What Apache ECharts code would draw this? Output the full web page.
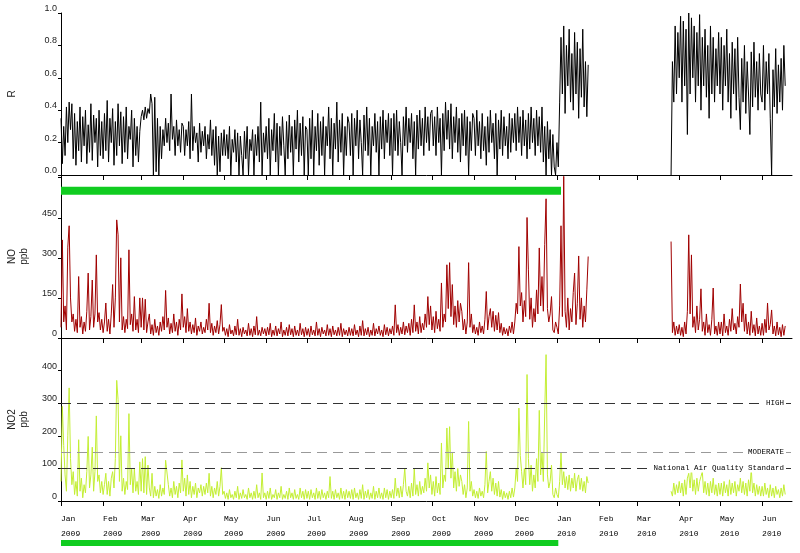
<!DOCTYPE html>
<html>
<head>
<meta charset="utf-8">
<title>R / NO / NO2</title>
<script src="https://cdn.jsdelivr.net/npm/echarts@6/dist/echarts.min.js"></script>
<style>
  html, body { margin: 0; padding: 0; background: #fff; }
  #chart { width: 800px; height: 553px; }
</style>
</head>
<body>
<div id="chart"></div>
<script>
// 月份标签
const monthNames = ['Jan', 'Feb', 'Mar', 'Apr', 'May', 'Jun', 'Jul', 'Aug', 'Sep', 'Oct', 'Nov', 'Dec'];
const firstDay = '2009-01-01';
const lastDay = '2010-06-23';

// y 轴刻度
const rTicks = [0, 0.2, 0.4, 0.6, 0.8, 1.0];
const noTicks = [0, 150, 300, 450];
const no2Ticks = [0, 100, 200, 300, 400];

// NO2 thresholds
const thresholdValues = [300, 150, 100];
const thresholdNames = ['HIGH', 'MODERATE', 'National Air Quality Standard'];

// green period bars (start, end)
const periodTop = ['2009-01-01', '2010-01-04'];
const periodBottom = ['2009-01-01', '2010-01-02'];

// ---- R, one value per day ----
const rJan09 = [.35,.07,.30,.12,.42,.20,.45,.28,.44,.10,.38,.06,.33,.15,.42,.08,.36,.18,.40,.07,.31,.14,.44,.09,.37,.20,.35,.05,.40,.12,.33];
const rFeb09 = [.10,.38,.15,.46,.08,.35,.20,.41,.06,.33,.12,.44,.18,.39,.07,.36,.14,.42,.10,.30,.22,.40,.05,.35,.12,.30,.08,.27];
const rMar09 = [.36,.40,.34,.42,.35,.41,.38,.50,.44,0,.48,.02,.35,0,.30,.10,.28,.18,.35,.20,.32,.15,.50,.22,.30,.12,.34,.18,.28,.14,.32];
const rApr09 = [.30,.12,.28,.18,.33,.10,.50,.15,.30,.20,.26,.08,.32,.14,.27,.18,.30,.10,.25,.16,.34,.12,.28,.06,.30,0,.24,.02,.26,.12];
const rMay09 = [.28,.12,.25,.10,.30,0,.22,.14,.28,.08,.26,0,.24,.12,0,.27,.10,.30,0,.22,.15,.28,0,.25,.12,.30,.08,.45,0,.26,.14];
const rJun09 = [.30,.10,.35,0,.28,.15,.38,.08,.32,0,.30,.12,.36,.18,0,.33,.10,.37,.14,.30,0,.34,.16,.40,.08,.32,.12,.36,0,.30];
const rJul09 = [.28,0,.35,.10,.40,0,.30,.15,.38,.06,.33,.12,.36,0,.30,.18,.42,.10,.35,0,.32,.16,.45,.08,.34,.14,.38,0,.30,.12,.36];
const rAug09 = [.32,.12,.38,0,.35,.18,.40,.10,.34,.20,0,.37,.15,.42,.12,.35,0,.30,.18,.38,.14,.33,0,.36,.16,.40,.10,.34,.20,.38,.12];
const rSep09 = [.35,0,.38,.15,.40,.12,.33,.20,0,.36,.18,.42,.14,.35,.20,.38,.10,.33,0,.37,.16,.40,.18,.35,.12,.42,.20,.36,.15,.38];
const rOct09 = [.40,.18,.36,.12,.42,.20,.35,0,.38,.15,.45,.22,.40,.16,.44,.10,.36,.20,.42,.14,.35,.08,.38,.18,.40,.12,.36,0,.33,.15,.38];
const rNov09 = [.35,.12,.40,.18,.33,.10,.38,.15,.30,.06,.36,.14,.40,.20,.32,.10,.38,0,.34,.16,.40,.12,.36,.18,.30,.10,.38,.14,.35,.20];
const rDec09 = [.38,.15,.42,.20,.36,.12,.40,.18,.34,.10,.38,.16,.42,.20,.35,.12,.40,.18,.36,.14,.42,.08,.30,0,.33,.10,.28,0,.25,.05,0];
const rJan10 = [.20,.05,.45,.85,.50,.92,.38,.80,.55,.90,.45,.75,.40,.88,.50,.82,.35,.78,.48,.90,.42,.70,.36,.68];
const rMar10 = [0,.70,.45,.92,.50,.88];
const rApr10 = [.60,.98,.45,.95,.55,.90,.25,1.0,.50,.97,.60,.92,.45,.88,.55,.99,.40,.85,.55,.90,.48,.80,.35,.92,.50,.85,.45,.78,.55,.88];
const rMay10 = [.50,.85,.40,.80,.55,.90,.45,.75,.35,.82,.50,.78,.40,.85,.48,.28,.72,.45,.80,.38,.70,.50,.25,.76,.42,.82,.48,.70,.40,.75,.50];
const rJun10 = [.45,.80,.40,.70,.50,.75,.35,0,.65,.42,.78,.38,.68,.45,.72,.40,.80,.55];

// ---- NO (ppb), one value per day ----
const noJan09 = [40,367,60,120,30,340,420,150,60,90,25,70,20,230,40,80,15,60,25,100,243,30,80,217,40,90,311,60,95,30,70];
const noFeb09 = [20,60,131,25,70,15,90,200,40,150,442,386,60,300,30,80,20,70,35,330,50,90,25,155,30,70,20,150];
const noMar09 = [40,150,30,145,20,60,90,15,50,10,70,20,45,10,60,25,80,30,178,40,75,15,55,20,90,25,60,10,70,30,165];
const noApr09 = [40,80,20,110,25,60,15,50,20,75,10,45,25,60,15,40,20,70,30,130,20,55,10,45,20,65,15,50,125,25];
const noMay09 = [40,10,35,5,50,15,30,8,45,12,70,10,35,5,40,15,30,8,55,10,35,5,45,12,80,10,30,8,40,15,35];
const noJun09 = [8,40,12,55,5,30,10,45,8,35,15,60,5,30,10,40,8,50,12,35,5,45,10,30,8,55,12,35,5,40];
const noJul09 = [10,35,5,45,12,30,8,60,10,35,5,40,15,30,8,50,10,35,5,45,12,30,8,40,10,55,5,35,12,30,8];
const noAug09 = [40,10,35,8,50,12,30,5,45,10,65,8,35,12,40,5,30,10,55,8,35,15,45,10,30,5,50,12,40,8,35];
const noSep09 = [15,45,10,124,20,50,10,40,15,60,12,45,20,55,10,70,20,124,25,60,15,80,20,55,30,90,40,155,50,120];
const noOct09 = [30,80,20,100,35,70,25,206,40,90,60,274,110,282,80,200,50,120,40,140,60,130,100,30,70,15,60,282,40,90,20];
const noNov09 = [50,15,40,10,60,20,45,15,70,174,30,80,110,40,100,25,85,30,95,20,55,10,40,15,35,8,45,20,60,15];
const noDec09 = [60,130,90,342,120,170,60,140,80,451,255,70,150,40,110,60,180,90,337,120,230,100,349,521,110,60,90,155,30,20,60];
const noJan10 = [40,15,120,420,80,605,100,40,150,30,110,60,170,243,50,130,307,70,150,40,120,60,180,305];
const noMar10 = [361,20,60,10,45,15];
const noApr10 = [50,10,40,5,60,15,100,386,90,311,40,80,20,120,30,70,184,25,60,10,90,20,50,10,70,187,15,45,10,60];
const noMay10 = [15,60,8,90,20,45,10,70,25,110,30,55,15,80,40,202,60,130,25,90,15,60,10,100,20,50,8,75,15,45,10];
const noJun10 = [55,10,70,20,131,30,50,105,15,45,8,60,12,40,5,50,10,45];

// ---- NO2 (ppb), one value per day ----
const no2Jan09 = [60,290,170,80,30,200,347,130,50,90,20,60,15,188,30,70,10,50,25,90,198,40,80,165,30,90,261,60,80,25,60];
const no2Feb09 = [20,50,85,20,60,15,70,90,40,130,370,311,60,200,30,70,20,60,35,268,50,100,25,100,30,60,20,120];
const no2Mar09 = [30,130,25,136,20,110,40,15,85,10,45,15,35,8,50,15,40,20,125,120,50,15,40,10,60,20,45,10,55,25,126];
const no2Apr09 = [30,70,15,80,20,60,10,45,20,55,10,40,25,50,15,45,20,55,25,85,15,45,10,40,20,60,15,45,102,20];
const no2May09 = [30,8,25,5,35,10,20,5,30,10,45,5,25,8,35,10,20,5,40,10,25,5,30,8,50,10,25,5,86,10,25];
const no2Jun09 = [5,30,8,40,5,20,10,35,5,25,10,45,5,20,8,30,5,40,10,25,5,35,8,20,5,40,10,30,5,35];
const no2Jul09 = [8,30,5,35,10,25,5,40,8,30,5,35,10,25,5,30,10,75,8,30,5,35,10,25,5,40,8,30,5,35,10];
const no2Aug09 = [30,8,35,5,40,10,25,5,35,8,50,5,30,10,35,5,25,8,45,5,30,10,40,8,25,5,40,10,35,5,30];
const no2Sep09 = [10,35,8,70,15,40,10,45,12,50,101,30,15,45,10,55,15,100,20,50,15,60,20,45,25,70,30,117,40,80];
const no2Oct09 = [20,60,15,75,25,55,20,178,40,80,60,224,100,228,70,150,40,90,30,100,45,80,60,20,50,10,40,244,30,60,15];
const no2Nov09 = [35,10,30,8,40,15,30,10,50,152,25,60,90,30,70,20,55,15,60,12,35,5,30,10,25,5,30,10,40,12];
const no2Dec09 = [40,100,60,285,140,90,40,100,50,388,130,50,110,30,80,40,130,60,278,80,150,60,270,449,80,40,60,110,20,10,40];
const no2Jan10 = [20,10,60,148,50,90,40,75,35,80,30,70,40,85,30,65,80,35,70,30,60,25,75,55];
const no2Mar10 = [30,15,55,20,50,25];
const no2Apr10 = [60,25,55,15,65,20,70,85,40,104,30,65,20,70,30,60,75,90,25,60,20,55,15,60,25,70,20,50,15,55];
const no2May10 = [20,55,15,60,25,50,15,65,20,55,25,60,15,50,30,70,25,60,20,55,15,65,30,101,25,55,15,50,20,45,15];
const no2Jun10 = [45,15,55,20,40,10,50,15,40,10,45,20,35,10,40,15,50,20];

// start date of each month block
const blockStarts = ['2009-01-01','2009-02-01','2009-03-01','2009-04-01','2009-05-01','2009-06-01','2009-07-01','2009-08-01',
  '2009-09-01','2009-10-01','2009-11-01','2009-12-01','2010-01-01','2010-03-26','2010-04-01','2010-05-01','2010-06-01'];

// 日期类目
const days = [];
for (let t = Date.parse(firstDay); t <= Date.parse(lastDay); t += 864e5) {
  days.push(new Date(t).toISOString().slice(0, 10));
}

function place(blocks) {
  const out = days.map(() => null);
  blocks.forEach((vals, b) => {
    const i0 = days.indexOf(blockStarts[b]);
    vals.forEach((v, k) => {
      if (i0 + k < out.length) out[i0 + k] = v;
    });
  });
  return out;
}

const rData = place([rJan09, rFeb09, rMar09, rApr09, rMay09, rJun09, rJul09, rAug09, rSep09, rOct09, rNov09, rDec09, rJan10, rMar10, rApr10, rMay10, rJun10]);
const noData = place([noJan09, noFeb09, noMar09, noApr09, noMay09, noJun09, noJul09, noAug09, noSep09, noOct09, noNov09, noDec09, noJan10, noMar10, noApr10, noMay10, noJun10]);
const no2Data = place([no2Jan09, no2Feb09, no2Mar09, no2Apr09, no2May09, no2Jun09, no2Jul09, no2Aug09, no2Sep09, no2Oct09, no2Nov09, no2Dec09, no2Jan10, no2Mar10, no2Apr10, no2May10, no2Jun10]);

const isMonthStart = (idx, value) => value.slice(8) === '01';
const sans = 'Liberation Sans, Arial, sans-serif';
const mono = 'Liberation Mono, Courier New, monospace';
const lineColors = ['#333', '#999', '#333'];

function makeX(gridIndex, withLabels) {
  return {
    type: 'category',
    gridIndex: gridIndex,
    data: days,
    boundaryGap: false,
    show: gridIndex < 3,
    axisLine: { lineStyle: { color: '#000', width: 1 } },
    axisTick: { interval: isMonthStart, length: 5, lineStyle: { color: '#000' } },
    axisLabel: {
      show: withLabels,
      interval: isMonthStart,
      formatter: (v) => monthNames[+v.slice(5, 7) - 1] + '\n' + v.slice(0, 4),
      align: 'left',
      margin: 10,
      lineHeight: 15,
      fontFamily: mono,
      fontSize: 8,
      color: '#000'
    },
    splitLine: { show: false }
  };
}

function makeY(gridIndex, name, max, ticks, fmt, gap) {
  return {
    type: 'value',
    gridIndex: gridIndex,
    min: 0,
    max: max,
    interval: ticks[1] - ticks[0],
    name: name,
    nameLocation: 'middle',
    nameRotate: 90,
    nameGap: gap,
    nameTextStyle: { fontFamily: sans, fontSize: 10, lineHeight: 12, color: '#222' },
    axisLine: { show: true, lineStyle: { color: '#000', width: 1 } },
    axisTick: { show: true, length: 3, lineStyle: { color: '#000' } },
    axisLabel: {
      formatter: (v) => (ticks.indexOf(+v.toFixed(1)) >= 0 ? fmt(v) : ''),
      showMaxLabel: true,
      fontFamily: sans,
      fontSize: 9,
      color: '#222',
      margin: 4,
      verticalAlign: 'bottom',
      lineHeight: 9
    },
    splitLine: { show: false }
  };
}

const chart = echarts.init(document.getElementById('chart'), null, { renderer: 'canvas' });
const option = {
  animation: false,
  backgroundColor: '#fff',
  grid: [
    { left: 61, right: 8, top: 13, height: 162, outerBoundsMode: 'none' },
    { left: 61, right: 8, top: 175, height: 163, outerBoundsMode: 'none' },
    { left: 61, right: 8, top: 338, height: 163, outerBoundsMode: 'none' },
    { left: 61, right: 8, top: 540, height: 6, outerBoundsMode: 'none' }
  ],
  xAxis: [makeX(0, false), makeX(1, false), makeX(2, true), makeX(3, false)],
  yAxis: [
    makeY(0, 'R', 1, rTicks, (v) => v.toFixed(1), 43),
    makeY(1, 'NO\nppb', 610, noTicks, (v) => String(v), 31),
    makeY(2, 'NO2\nppb', 500, no2Ticks, (v) => String(v), 31),
    { type: 'value', gridIndex: 3, min: 0, max: 1, show: false }
  ],
  series: [
    {
      name: 'R', type: 'line', xAxisIndex: 0, yAxisIndex: 0, data: rData,
      showSymbol: false, connectNulls: false, silent: true,
      lineStyle: { color: '#000', width: 1 }
    },
    {
      name: 'NO', type: 'line', xAxisIndex: 1, yAxisIndex: 1, data: noData,
      showSymbol: false, connectNulls: false, silent: true,
      lineStyle: { color: '#a00000', width: 1 },
      markArea: {
        silent: true,
        itemStyle: { color: '#10cc20', opacity: 1 },
        data: [[{ xAxis: periodTop[0], yAxis: 536 }, { xAxis: periodTop[1], yAxis: 566 }]]
      }
    },
    {
      name: 'NO2', type: 'line', xAxisIndex: 2, yAxisIndex: 2, data: no2Data,
      showSymbol: false, connectNulls: false, silent: true,
      lineStyle: { color: '#c3ee34', width: 1 },
      markLine: {
        silent: true,
        symbol: ['none', 'none'],
        data: thresholdValues.map((v, i) => ({
          yAxis: v,
          name: thresholdNames[i],
          lineStyle: { color: lineColors[i], type: [10, 6], width: 1 }
        })),
        label: {
          show: true,
          position: 'insideEnd',
          formatter: '{b}',
          distance: 6,
          fontFamily: mono,
          fontSize: 7.5,
          color: '#000',
          backgroundColor: '#fff',
          padding: [0, 2]
        }
      }
    },
    {
      name: 'period', type: 'line', xAxisIndex: 3, yAxisIndex: 3,
      data: days.map(() => null), showSymbol: false, silent: true,
      markArea: {
        silent: true,
        itemStyle: { color: '#10cc20', opacity: 1 },
        data: [[{ xAxis: periodBottom[0], yAxis: 0 }, { xAxis: periodBottom[1], yAxis: 1 }]]
      }
    }
  ]
};
chart.setOption(option);
</script>
</body>
</html>
